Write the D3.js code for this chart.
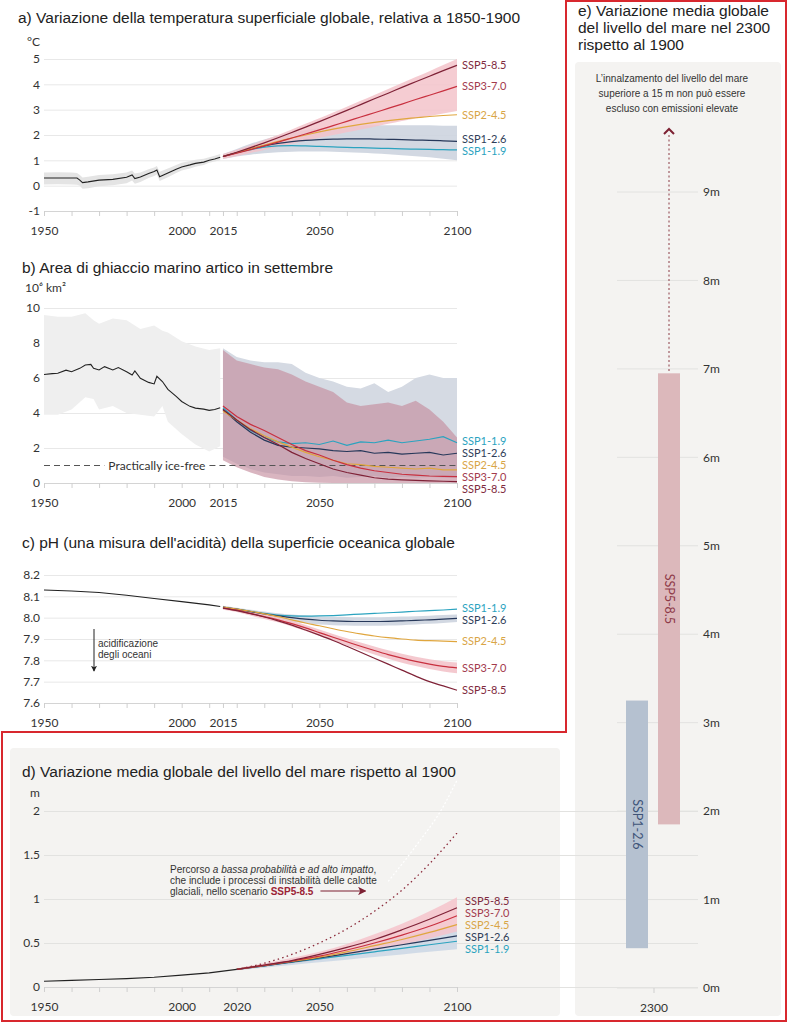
<!DOCTYPE html>
<html>
<head>
<meta charset="utf-8">
<script src="https://cdn.jsdelivr.net/npm/d3@7"></script>
<style>
	body { margin: 0; background: #fff; }
	svg { display: block; }
	.title { font-family: "Liberation Sans", Arial, sans-serif; font-size: 15.5px; fill: #222; }
	.tick text { font-family: Lato, sans-serif; font-size: 12px; fill: #333; }
	.unit { font-family: Lato, sans-serif; font-size: 12px; fill: #333; }
	.ssp { font-family: Lato, sans-serif; font-size: 11px; }
	.note { font-family: "Liberation Sans", Arial, sans-serif; font-size: 10px; fill: #333; }
</style>
</head>
<body>
<svg width="792" height="1024"></svg>
<script>
// scenari e assi
const scenarios = ["SSP1-1.9", "SSP1-2.6", "SSP2-4.5", "SSP3-7.0", "SSP5-8.5"];
const xTicksABC = [1950, 1960, 1970, 1980, 1990, 2000, 2010, 2015, 2020, 2030, 2040, 2050, 2060, 2070, 2080, 2090, 2100];
const xLabelsABC = [1950, 2000, 2015, 2050, 2100];
const xTicksD = [1950, 1960, 1970, 1980, 1990, 2000, 2010, 2020, 2030, 2040, 2050, 2060, 2070, 2080, 2090, 2100];
const xLabelsD = [1950, 2000, 2020, 2050, 2100];
const projYears = [2015, 2020, 2025, 2030, 2035, 2040, 2045, 2050, 2055, 2060, 2065, 2070, 2075, 2080, 2085, 2090, 2095, 2100];

// a) temperatura
const tempTicks = [-1, 0, 1, 2, 3, 4, 5];
const tempHistYears = [1950, 1955, 1960, 1962, 1963, 1964, 1966, 1970, 1975, 1980, 1982, 1983, 1985, 1988, 1990, 1991, 1992, 1995, 1998, 2000, 2003, 2005, 2008, 2010, 2012, 2014];
const tempHist = [0.3, 0.3, 0.3, 0.3, 0.22, 0.12, 0.15, 0.22, 0.25, 0.33, 0.42, 0.28, 0.34, 0.48, 0.56, 0.62, 0.35, 0.5, 0.65, 0.74, 0.82, 0.88, 0.93, 1.0, 1.05, 1.12];
const tempHistLow = [0.05, 0.06, 0.05, 0.04, 0.0, -0.12, -0.1, -0.02, 0.02, 0.1, 0.2, 0.08, 0.14, 0.3, 0.38, 0.44, 0.18, 0.33, 0.5, 0.6, 0.68, 0.75, 0.82, 0.9, 0.95, 1.0];
const tempHistHigh = [0.52, 0.53, 0.52, 0.5, 0.42, 0.32, 0.35, 0.42, 0.45, 0.52, 0.6, 0.48, 0.52, 0.65, 0.72, 0.78, 0.55, 0.68, 0.82, 0.9, 0.97, 1.02, 1.06, 1.12, 1.18, 1.25];
const tempSSP119 = [1.15, 1.3, 1.42, 1.52, 1.57, 1.58, 1.57, 1.55, 1.53, 1.51, 1.5, 1.48, 1.47, 1.45, 1.44, 1.43, 1.42, 1.41];
const tempSSP126 = [1.15, 1.3, 1.45, 1.57, 1.67, 1.74, 1.79, 1.82, 1.84, 1.85, 1.85, 1.84, 1.83, 1.82, 1.8, 1.79, 1.77, 1.75];
const tempSSP245 = [1.15, 1.3, 1.45, 1.6, 1.75, 1.88, 2.0, 2.12, 2.23, 2.33, 2.42, 2.5, 2.57, 2.63, 2.68, 2.73, 2.77, 2.8];
const tempSSP370 = [1.15, 1.28, 1.42, 1.57, 1.72, 1.88, 2.04, 2.2, 2.37, 2.54, 2.71, 2.88, 3.05, 3.22, 3.4, 3.57, 3.74, 3.92];
const tempSSP585 = [1.15, 1.32, 1.5, 1.69, 1.89, 2.1, 2.31, 2.53, 2.75, 2.97, 3.2, 3.43, 3.65, 3.88, 4.1, 4.32, 4.54, 4.75];
const tempBand126Low = [1.05, 1.15, 1.22, 1.28, 1.32, 1.34, 1.35, 1.35, 1.34, 1.32, 1.3, 1.27, 1.24, 1.2, 1.16, 1.12, 1.06, 1.0];
const tempBand126High = [1.25, 1.45, 1.65, 1.82, 1.98, 2.1, 2.2, 2.27, 2.32, 2.35, 2.37, 2.38, 2.38, 2.38, 2.38, 2.38, 2.37, 2.37];
const tempBand370Low = [1.05, 1.17, 1.29, 1.41, 1.53, 1.65, 1.77, 1.89, 2.0, 2.11, 2.22, 2.33, 2.44, 2.55, 2.65, 2.75, 2.85, 2.95];
const tempBand370High = [1.25, 1.42, 1.6, 1.8, 2.0, 2.22, 2.44, 2.66, 2.89, 3.12, 3.35, 3.58, 3.82, 4.05, 4.29, 4.52, 4.76, 5.0];

// b) ghiaccio marino
const iceTicks = [0, 2, 4, 6, 8, 10];
const iceFreeLevel = 1;
const iceHistYears = [1950, 1953, 1955, 1958, 1960, 1963, 1965, 1967, 1968, 1970, 1972, 1975, 1977, 1980, 1982, 1983, 1985, 1988, 1990, 1991, 1993, 1995, 1998, 2000, 2003, 2005, 2008, 2010, 2012, 2014];
const iceHist = [6.2, 6.25, 6.27, 6.45, 6.36, 6.55, 6.74, 6.78, 6.55, 6.46, 6.65, 6.46, 6.6, 6.36, 6.17, 6.4, 5.98, 5.75, 5.66, 6.1, 5.8, 5.35, 4.95, 4.66, 4.38, 4.28, 4.22, 4.15, 4.2, 4.3];
const iceBandYears = [1950, 1955, 1960, 1965, 1968, 1970, 1975, 1980, 1985, 1990, 1993, 1995, 2000, 2005, 2010, 2014];
const iceBandLow = [3.9, 3.9, 4.2, 4.9, 4.8, 4.2, 4.4, 4.0, 3.9, 3.8, 4.4, 3.5, 2.8, 2.2, 1.8, 2.1];
const iceBandHigh = [9.6, 9.5, 9.5, 9.7, 9.3, 9.1, 9.4, 9.3, 8.8, 9.0, 8.7, 8.6, 8.1, 7.8, 7.6, 7.7];
const iceSSP119 = [4.3, 3.6, 3.0, 2.6, 2.35, 2.25, 2.3, 2.2, 2.4, 2.15, 2.35, 2.3, 2.45, 2.3, 2.4, 2.5, 2.65, 2.3];
const iceSSP126 = [4.2, 3.5, 2.9, 2.45, 2.15, 2.05, 2.0, 1.95, 1.85, 1.8, 1.85, 1.7, 1.75, 1.65, 1.7, 1.75, 1.6, 1.7];
const iceSSP245 = [4.1, 3.6, 3.1, 2.7, 2.35, 2.05, 1.75, 1.5, 1.3, 1.1, 1.05, 0.95, 0.9, 0.85, 0.8, 0.85, 0.75, 0.75];
const iceSSP370 = [4.4, 3.8, 3.35, 3.0, 2.6, 2.2, 1.85, 1.6, 1.3, 1.05, 0.85, 0.7, 0.6, 0.5, 0.45, 0.4, 0.38, 0.36];
const iceSSP585 = [4.2, 3.6, 3.05, 2.6, 2.2, 1.75, 1.4, 1.1, 0.8, 0.6, 0.45, 0.3, 0.22, 0.18, 0.15, 0.12, 0.1, 0.08];
const iceBand126Low = [1.5, 1.1, 0.8, 0.6, 0.5, 0.4, 0.4, 0.35, 0.4, 0.3, 0.35, 0.4, 0.3, 0.35, 0.3, 0.35, 0.3, 0.3];
const iceBand126High = [7.7, 7.2, 7.0, 6.9, 6.9, 6.8, 6.3, 6.0, 5.8, 5.5, 5.4, 5.7, 5.2, 5.5, 6.0, 6.2, 6.0, 6.0];
const iceBand370Low = [1.3, 0.9, 0.6, 0.35, 0.2, 0.1, 0.05, 0.02, 0, 0, 0, 0, 0, 0, 0, 0, 0, 0];
const iceBand370High = [7.6, 7.0, 6.8, 6.6, 6.5, 6.2, 5.8, 5.5, 5.2, 4.6, 4.4, 4.5, 4.6, 4.4, 4.7, 4.2, 3.5, 2.6];

// c) pH
const phTicks = [7.6, 7.7, 7.8, 7.9, 8.0, 8.1, 8.2];
const phHistYears = [1950, 1960, 1970, 1980, 1990, 2000, 2010, 2014];
const phHist = [8.13, 8.125, 8.118, 8.105, 8.09, 8.075, 8.06, 8.052];
const phSSP119 = [8.05, 8.04, 8.03, 8.02, 8.012, 8.008, 8.007, 8.008, 8.01, 8.013, 8.017, 8.02, 8.023, 8.026, 8.03, 8.033, 8.036, 8.04];
const phSSP126 = [8.05, 8.04, 8.028, 8.018, 8.008, 8.0, 7.993, 7.988, 7.985, 7.983, 7.982, 7.982, 7.983, 7.985, 7.987, 7.99, 7.993, 7.997];
const phSSP245 = [8.05, 8.04, 8.03, 8.018, 8.005, 7.99, 7.975, 7.962, 7.948, 7.935, 7.924, 7.914, 7.906, 7.9, 7.895, 7.892, 7.89, 7.888];
const phSSP370 = [8.045, 8.035, 8.02, 8.005, 7.99, 7.972, 7.952, 7.93, 7.908, 7.887, 7.866, 7.846, 7.827, 7.81, 7.795, 7.782, 7.772, 7.765];
const phSSP585 = [8.045, 8.033, 8.019, 8.003, 7.985, 7.965, 7.942, 7.918, 7.893, 7.866, 7.838, 7.81, 7.782, 7.754, 7.726, 7.7, 7.68, 7.66];
const phBand126Low = [8.043, 8.032, 8.018, 8.004, 7.992, 7.982, 7.974, 7.968, 7.965, 7.963, 7.962, 7.962, 7.963, 7.965, 7.968, 7.971, 7.975, 7.98];
const phBand126High = [8.056, 8.047, 8.037, 8.029, 8.021, 8.015, 8.01, 8.006, 8.004, 8.003, 8.002, 8.002, 8.003, 8.005, 8.007, 8.009, 8.012, 8.015];
const phBand370Low = [8.037, 8.026, 8.01, 7.994, 7.978, 7.959, 7.938, 7.915, 7.892, 7.87, 7.848, 7.827, 7.807, 7.789, 7.773, 7.759, 7.748, 7.74];
const phBand370High = [8.053, 8.044, 8.03, 8.016, 8.002, 7.985, 7.966, 7.945, 7.924, 7.904, 7.884, 7.865, 7.847, 7.831, 7.817, 7.805, 7.796, 7.79];

// d) livello del mare al 2100
const seaTicks = [0, 0.5, 1, 1.5, 2];
const seaHistYears = [1950, 1960, 1970, 1980, 1990, 2000, 2010, 2020];
const seaHist = [0.065, 0.075, 0.085, 0.095, 0.11, 0.135, 0.16, 0.2];
const seaProjYears = [2020, 2030, 2040, 2050, 2060, 2070, 2080, 2090, 2100];
const seaSSP119 = [0.2, 0.24, 0.28, 0.32, 0.36, 0.4, 0.44, 0.48, 0.52];
const seaSSP126 = [0.2, 0.24, 0.285, 0.33, 0.38, 0.43, 0.48, 0.53, 0.58];
const seaSSP245 = [0.2, 0.245, 0.29, 0.34, 0.4, 0.47, 0.54, 0.62, 0.71];
const seaSSP370 = [0.2, 0.245, 0.295, 0.35, 0.42, 0.5, 0.59, 0.69, 0.81];
const seaSSP585 = [0.2, 0.25, 0.3, 0.37, 0.45, 0.54, 0.65, 0.77, 0.9];
const seaBand126Low = [0.19, 0.22, 0.25, 0.28, 0.31, 0.34, 0.37, 0.4, 0.43];
const seaBand126High = [0.21, 0.26, 0.31, 0.37, 0.43, 0.5, 0.57, 0.64, 0.71];
const seaBand370Low = [0.19, 0.23, 0.27, 0.31, 0.36, 0.42, 0.48, 0.55, 0.63];
const seaBand370High = [0.21, 0.27, 0.33, 0.4, 0.49, 0.6, 0.72, 0.86, 1.02];
const seaLowLikely = [0.2, 0.27, 0.37, 0.5, 0.66, 0.86, 1.1, 1.4, 1.75];
const seaLowLikelyUpperYears = [2075, 2085, 2095, 2100];
const seaLowLikelyUpper = [1.2, 1.6, 2.05, 2.35];

// e) livello del mare al 2300
const e2300Ticks = [0, 1, 2, 3, 4, 5, 6, 7, 8, 9];
const e2300Scenarios = ["SSP1-2.6", "SSP5-8.5"];
const e2300Low = [0.45, 1.85];
const e2300High = [3.25, 6.95];

// colori
const lineColor = { "SSP1-1.9": "#2ba3bf", "SSP1-2.6": "#27385a", "SSP2-4.5": "#e0a63e", "SSP3-7.0": "#c8303f", "SSP5-8.5": "#7f2237" };
const labelColor = { "SSP1-1.9": "#2ba3bf", "SSP1-2.6": "#2f3d58", "SSP2-4.5": "#d9a546", "SSP3-7.0": "#a33a4d", "SSP5-8.5": "#7f2a3e" };
const darkRed = "#7d2133";

const svg = d3.select("svg");
const x = d3.scaleLinear().domain([1950, 2100]).range([44, 457]);

const defs = svg.append("defs");
defs.append("marker")
	.attr("id", "head")
	.attr("viewBox", "0 0 8 8")
	.attr("refX", 7)
	.attr("refY", 4)
	.attr("markerWidth", 7)
	.attr("markerHeight", 7)
	.attr("orient", "auto")
	.append("path")
	.attr("d", "M0,0L8,4L0,8L2,4Z")
	.attr("fill", darkRed);
defs.append("marker")
	.attr("id", "headBlack")
	.attr("viewBox", "0 0 8 8")
	.attr("refX", 7)
	.attr("refY", 4)
	.attr("markerWidth", 6)
	.attr("markerHeight", 6)
	.attr("orient", "auto")
	.append("path")
	.attr("d", "M0,0L8,4L0,8L2,4Z")
	.attr("fill", "#222");

// sfondi grigi di d) ed e)
svg.append("rect").attr("x", 10).attr("y", 748).attr("width", 550).attr("height", 268).attr("rx", 4).attr("fill", "#f4f3f1");
svg.append("rect").attr("x", 575).attr("y", 62).attr("width", 206).attr("height", 954).attr("rx", 4).attr("fill", "#f4f3f1");

const linePath = (years, vals, y, curve) =>
	d3.line().curve(curve || d3.curveMonotoneX)(years.map((yr, i) => [x(yr), y(vals[i])]));
const bandPath = (years, lo, hi, y, curve) =>
	d3.area()
		.curve(curve || d3.curveMonotoneX)
		.x((d) => x(d[0]))
		.y0((d) => y(d[1]))
		.y1((d) => y(d[2]))(d3.zip(years, lo, hi));

function relax(items, gap) {
	for (let k = 0; k < 80; k++) {
		for (let i = 1; i < items.length; i++) {
			const d = items[i].y - items[i - 1].y;
			if (d < gap) {
				items[i - 1].y -= (gap - d) / 2;
				items[i].y += (gap - d) / 2;
			}
		}
	}
}

function drawPanel(cfg) {
	const g = svg.append("g");
	const y = cfg.y;
	const x0 = x(1950);

	// griglia e valori sull'asse y
	const yAx = g.append("g")
		.attr("transform", "translate(" + x0 + ",0)")
		.call(
			d3.axisLeft(y)
				.tickValues(cfg.yTicks)
				.tickFormat(cfg.yFormat)
				.tickSize(-(cfg.gridEnd - x0))
				.tickPadding(4)
		);
	yAx.select(".domain").remove();
	yAx.selectAll(".tick line").attr("stroke", cfg.gridColor || "#e8e8e8");

	if (cfg.histBand) {
		g.append("path")
			.attr("d", bandPath(cfg.histBand[0], cfg.histBand[1], cfg.histBand[2], y, d3.curveLinear))
			.attr("fill", cfg.histBandFill);
	}
	cfg.bands.forEach((b) => {
		g.append("path")
			.attr("d", bandPath(cfg.projYears, b.lo, b.hi, y, cfg.curve))
			.attr("fill", b.fill)
			.attr("fill-opacity", b.opacity);
	});
	if (cfg.extra) cfg.extra(g, y);

	scenarios.forEach((s) => {
		g.append("path")
			.attr("d", linePath(cfg.projYears, cfg.proj[s], y, cfg.curve))
			.attr("fill", "none")
			.attr("stroke", lineColor[s])
			.attr("stroke-width", 1.2);
	});
	g.append("path")
		.attr("d", linePath(cfg.histYears, cfg.hist, y, d3.curveLinear))
		.attr("fill", "none")
		.attr("stroke", "#222")
		.attr("stroke-width", 1.1);

	// etichette degli scenari, distanziate
	const items = scenarios
		.map((s) => ({ s: s, y: y(cfg.proj[s][cfg.proj[s].length - 1]) }))
		.sort((a, b) => a.y - b.y);
	relax(items, cfg.labelGap);
	g.selectAll(".ssp")
		.data(items)
		.join("text")
		.attr("class", "ssp")
		.attr("x", x(2100) + cfg.labelDx)
		.attr("y", (d) => d.y)
		.attr("dy", "0.35em")
		.attr("fill", (d) => labelColor[d.s])
		.text((d) => d.s);

	const xAx = g.append("g")
		.attr("transform", "translate(0," + y(cfg.yTicks[0]) + ")")
		.call(
			d3.axisBottom(x)
				.tickValues(cfg.xTicks)
				.tickSize(5)
				.tickSizeOuter(0)
				.tickPadding(10)
				.tickFormat((d) => (cfg.xLabels.includes(d) ? d : ""))
		);
	xAx.select(".domain").attr("stroke", "#d4d4d4");
	xAx.selectAll(".tick line").attr("stroke", "#cfcfcf");

	g.append("text")
		.attr("class", "title")
		.attr("x", cfg.titleX)
		.attr("y", cfg.titleY)
		.text(cfg.title);
	if (cfg.unit) {
		g.append("text")
			.attr("class", "unit")
			.attr("x", cfg.unit[0])
			.attr("y", cfg.unit[1])
			.text(cfg.unit[2]);
	}
	return g;
}

// a)
drawPanel({
	y: d3.scaleLinear().domain([-1, 5]).range([211, 59]),
	yTicks: tempTicks,
	yFormat: (d) => d,
	gridEnd: x(2100),
	histYears: tempHistYears,
	hist: tempHist,
	histBand: [tempHistYears, tempHistLow, tempHistHigh],
	histBandFill: "#e4e4e4",
	projYears: projYears,
	proj: { "SSP1-1.9": tempSSP119, "SSP1-2.6": tempSSP126, "SSP2-4.5": tempSSP245, "SSP3-7.0": tempSSP370, "SSP5-8.5": tempSSP585 },
	bands: [
		{ lo: tempBand126Low, hi: tempBand126High, fill: "#cdd4df", opacity: 0.9 },
		{ lo: tempBand370Low, hi: tempBand370High, fill: "#f3c3ca", opacity: 0.85 },
	],
	labelGap: 12,
	labelDx: 5,
	xTicks: xTicksABC,
	xLabels: xLabelsABC,
	title: "a) Variazione della temperatura superficiale globale, relativa a 1850-1900",
	titleX: 18,
	titleY: 23,
	unit: [27, 46, "°C"],
});

// b)
drawPanel({
	y: d3.scaleLinear().domain([0, 10]).range([483, 308]),
	yTicks: iceTicks,
	yFormat: (d) => d,
	gridEnd: x(2100),
	curve: d3.curveLinear,
	histYears: iceHistYears,
	hist: iceHist,
	histBand: [iceBandYears, iceBandLow, iceBandHigh],
	histBandFill: "#efefef",
	projYears: projYears,
	proj: { "SSP1-1.9": iceSSP119, "SSP1-2.6": iceSSP126, "SSP2-4.5": iceSSP245, "SSP3-7.0": iceSSP370, "SSP5-8.5": iceSSP585 },
	bands: [
		{ lo: iceBand126Low, hi: iceBand126High, fill: "#d5dae3", opacity: 1 },
		{ lo: iceBand370Low, hi: iceBand370High, fill: "#c48e9e", opacity: 0.65 },
	],
	extra: (g, y) => {
		// soglia "practically ice-free"
		const label = g.append("text")
			.attr("class", "unit")
			.attr("x", x(1991))
			.attr("y", y(iceFreeLevel))
			.attr("dy", "0.35em")
			.attr("text-anchor", "middle")
			.attr("fill", "#333")
			.text("Practically ice-free");
		const half = label.node().getComputedTextLength() / 2 + 4;
		[[x(1950), x(1991) - half], [x(1991) + half, x(2100)]].forEach((seg) => {
			g.append("line")
				.attr("x1", seg[0])
				.attr("x2", seg[1])
				.attr("y1", y(iceFreeLevel))
				.attr("y2", y(iceFreeLevel))
				.attr("stroke", "#555")
				.attr("stroke-dasharray", "6,4");
		});
	},
	labelGap: 12,
	labelDx: 5,
	xTicks: xTicksABC,
	xLabels: xLabelsABC,
	title: "b) Area di ghiaccio marino artico in settembre",
	titleX: 22,
	titleY: 273,
	unit: [25, 292, "10⁶ km²"],
});

// c)
drawPanel({
	y: d3.scaleLinear().domain([7.6, 8.2]).range([703, 575]),
	yTicks: phTicks,
	yFormat: d3.format(".1f"),
	gridEnd: x(2100),
	histYears: phHistYears,
	hist: phHist,
	projYears: projYears,
	proj: { "SSP1-1.9": phSSP119, "SSP1-2.6": phSSP126, "SSP2-4.5": phSSP245, "SSP3-7.0": phSSP370, "SSP5-8.5": phSSP585 },
	bands: [
		{ lo: phBand126Low, hi: phBand126High, fill: "#cdd4df", opacity: 0.9 },
		{ lo: phBand370Low, hi: phBand370High, fill: "#f3c3ca", opacity: 0.9 },
	],
	extra: (g) => {
		g.append("line")
			.attr("x1", 94)
			.attr("x2", 94)
			.attr("y1", 629)
			.attr("y2", 671)
			.attr("stroke", "#222")
			.attr("marker-end", "url(#headBlack)");
		g.append("text").attr("class", "note").attr("font-size", "10.5px").attr("x", 98).attr("y", 647).text("acidificazione");
		g.append("text").attr("class", "note").attr("font-size", "10.5px").attr("x", 98).attr("y", 658).text("degli oceani");
	},
	labelGap: 12,
	labelDx: 5,
	xTicks: xTicksABC,
	xLabels: xLabelsABC,
	title: "c) pH (una misura dell'acidità) della superficie oceanica globale",
	titleX: 22,
	titleY: 548,
});

// d)
drawPanel({
	y: d3.scaleLinear().domain([0, 2]).range([987, 811]),
	yTicks: seaTicks,
	yFormat: (d) => d,
	gridEnd: 698,
	gridColor: "#e2e2e0",
	histYears: seaHistYears,
	hist: seaHist,
	projYears: seaProjYears,
	proj: { "SSP1-1.9": seaSSP119, "SSP1-2.6": seaSSP126, "SSP2-4.5": seaSSP245, "SSP3-7.0": seaSSP370, "SSP5-8.5": seaSSP585 },
	bands: [
		{ lo: seaBand126Low, hi: seaBand126High, fill: "#cdd8e6", opacity: 0.9 },
		{ lo: seaBand370Low, hi: seaBand370High, fill: "#f5c3cb", opacity: 0.85 },
	],
	extra: (g, y) => {
		g.append("path")
			.attr("d", linePath(seaLowLikelyUpperYears, seaLowLikelyUpper, y))
			.attr("fill", "none")
			.attr("stroke", "#fff")
			.attr("stroke-width", 1.2)
			.attr("stroke-dasharray", "2,2");
		g.append("path")
			.attr("d", linePath(seaProjYears, seaLowLikely, y))
			.attr("fill", "none")
			.attr("stroke", "#8b2a3a")
			.attr("stroke-width", 1.3)
			.attr("stroke-dasharray", "1.5,3.2");
		const note = g.append("text").attr("class", "note");
		note.append("tspan").attr("x", 170).attr("y", 873).text("Percorso ");
		note.append("tspan").attr("font-style", "italic").text("a bassa probabilità e ad alto impatto");
		note.append("tspan").text(",");
		g.append("text").attr("class", "note").attr("x", 170).attr("y", 884).text("che include i processi di instabilità delle calotte");
		const last = g.append("text").attr("class", "note").attr("x", 170).attr("y", 895);
		last.append("tspan").text("glaciali, nello scenario ");
		last.append("tspan").attr("font-weight", "bold").attr("fill", "#9b2335").text("SSP5-8.5");
		const end = 170 + last.node().getComputedTextLength();
		g.append("line")
			.attr("x1", end + 7)
			.attr("x2", end + 52)
			.attr("y1", 891)
			.attr("y2", 891)
			.attr("stroke", darkRed)
			.attr("stroke-width", 1.2)
			.attr("marker-end", "url(#head)");
	},
	labelGap: 12,
	labelDx: 8,
	xTicks: xTicksD,
	xLabels: xLabelsD,
	title: "d) Variazione media globale del livello del mare rispetto al 1900",
	titleX: 22,
	titleY: 777,
	unit: [30, 797, "m"],
});

// e) barre al 2300
const yE = d3.scaleLinear().domain([0, 9]).range([988, 192]);
const xE = d3.scaleBand().domain(e2300Scenarios).range([626, 680]).paddingInner(0.3125);
const gE = svg.append("g");

gE.selectAll(".egrid")
	.data(e2300Ticks)
	.join("line")
	.attr("x1", 617)
	.attr("x2", 698)
	.attr("y1", (d) => yE(d))
	.attr("y2", (d) => yE(d))
	.attr("stroke", "#e2e2e0");
gE.selectAll(".elab")
	.data(e2300Ticks)
	.join("text")
	.attr("class", "unit")
	.attr("x", 703)
	.attr("y", (d) => yE(d))
	.attr("dy", "0.35em")
	.text((d) => d + "m");

const eColor = { "SSP1-2.6": "#b5c1d0", "SSP5-8.5": "#dcb8bb" };
const eText = { "SSP1-2.6": "#3e5478", "SSP5-8.5": "#8e3a48" };
e2300Scenarios.forEach((s, i) => {
	gE.append("rect")
		.attr("x", xE(s))
		.attr("width", xE.bandwidth())
		.attr("y", yE(e2300High[i]))
		.attr("height", yE(e2300Low[i]) - yE(e2300High[i]))
		.attr("fill", eColor[s]);
	const cy = (yE(e2300High[i]) + yE(e2300Low[i])) / 2;
	gE.append("text")
		.attr("transform", "translate(" + (xE(s) + xE.bandwidth() / 2) + "," + cy + ") rotate(90)")
		.attr("text-anchor", "middle")
		.attr("dy", "0.35em")
		.attr("font-family", "Lato, sans-serif")
		.attr("font-size", "12.5px")
		.attr("fill", eText[s])
		.text(s);
});

// freccia oltre i 15 m
const cx585 = xE("SSP5-8.5") + xE.bandwidth() / 2;
gE.append("line")
	.attr("x1", cx585)
	.attr("x2", cx585)
	.attr("y1", 135)
	.attr("y2", yE(e2300High[1]))
	.attr("stroke", "#8b3a45")
	.attr("stroke-dasharray", "2,2.5");
gE.append("path")
	.attr("d", "M" + (cx585 - 5) + ",134L" + cx585 + ",129L" + (cx585 + 5) + ",134")
	.attr("fill", "none")
	.attr("stroke", darkRed)
	.attr("stroke-width", 2);

["L’innalzamento del livello del mare", "superiore a 15 m non può essere", "escluso con emissioni elevate"].forEach((t, i) => {
	gE.append("text")
		.attr("class", "note")
		.attr("x", 672)
		.attr("y", 82 + i * 15)
		.attr("text-anchor", "middle")
		.text(t);
});

gE.append("line").attr("x1", 654).attr("x2", 654).attr("y1", 988).attr("y2", 993).attr("stroke", "#cfcfcf");
gE.append("text").attr("class", "unit").attr("x", 654).attr("y", 1012).attr("text-anchor", "middle").text("2300");

["e) Variazione media globale", "del livello del mare nel 2300", "rispetto al 1900"].forEach((t, i) => {
	gE.append("text")
		.attr("class", "title")
		.attr("x", 578)
		.attr("y", 16 + i * 17)
		.text(t);
});

// contorno rosso attorno ai pannelli del livello del mare
svg.append("path")
	.attr("d", "M566,1H786V1021H2V732H566Z")
	.attr("fill", "none")
	.attr("stroke", "#d8282e")
	.attr("stroke-width", 2);
</script>
</body>
</html>
